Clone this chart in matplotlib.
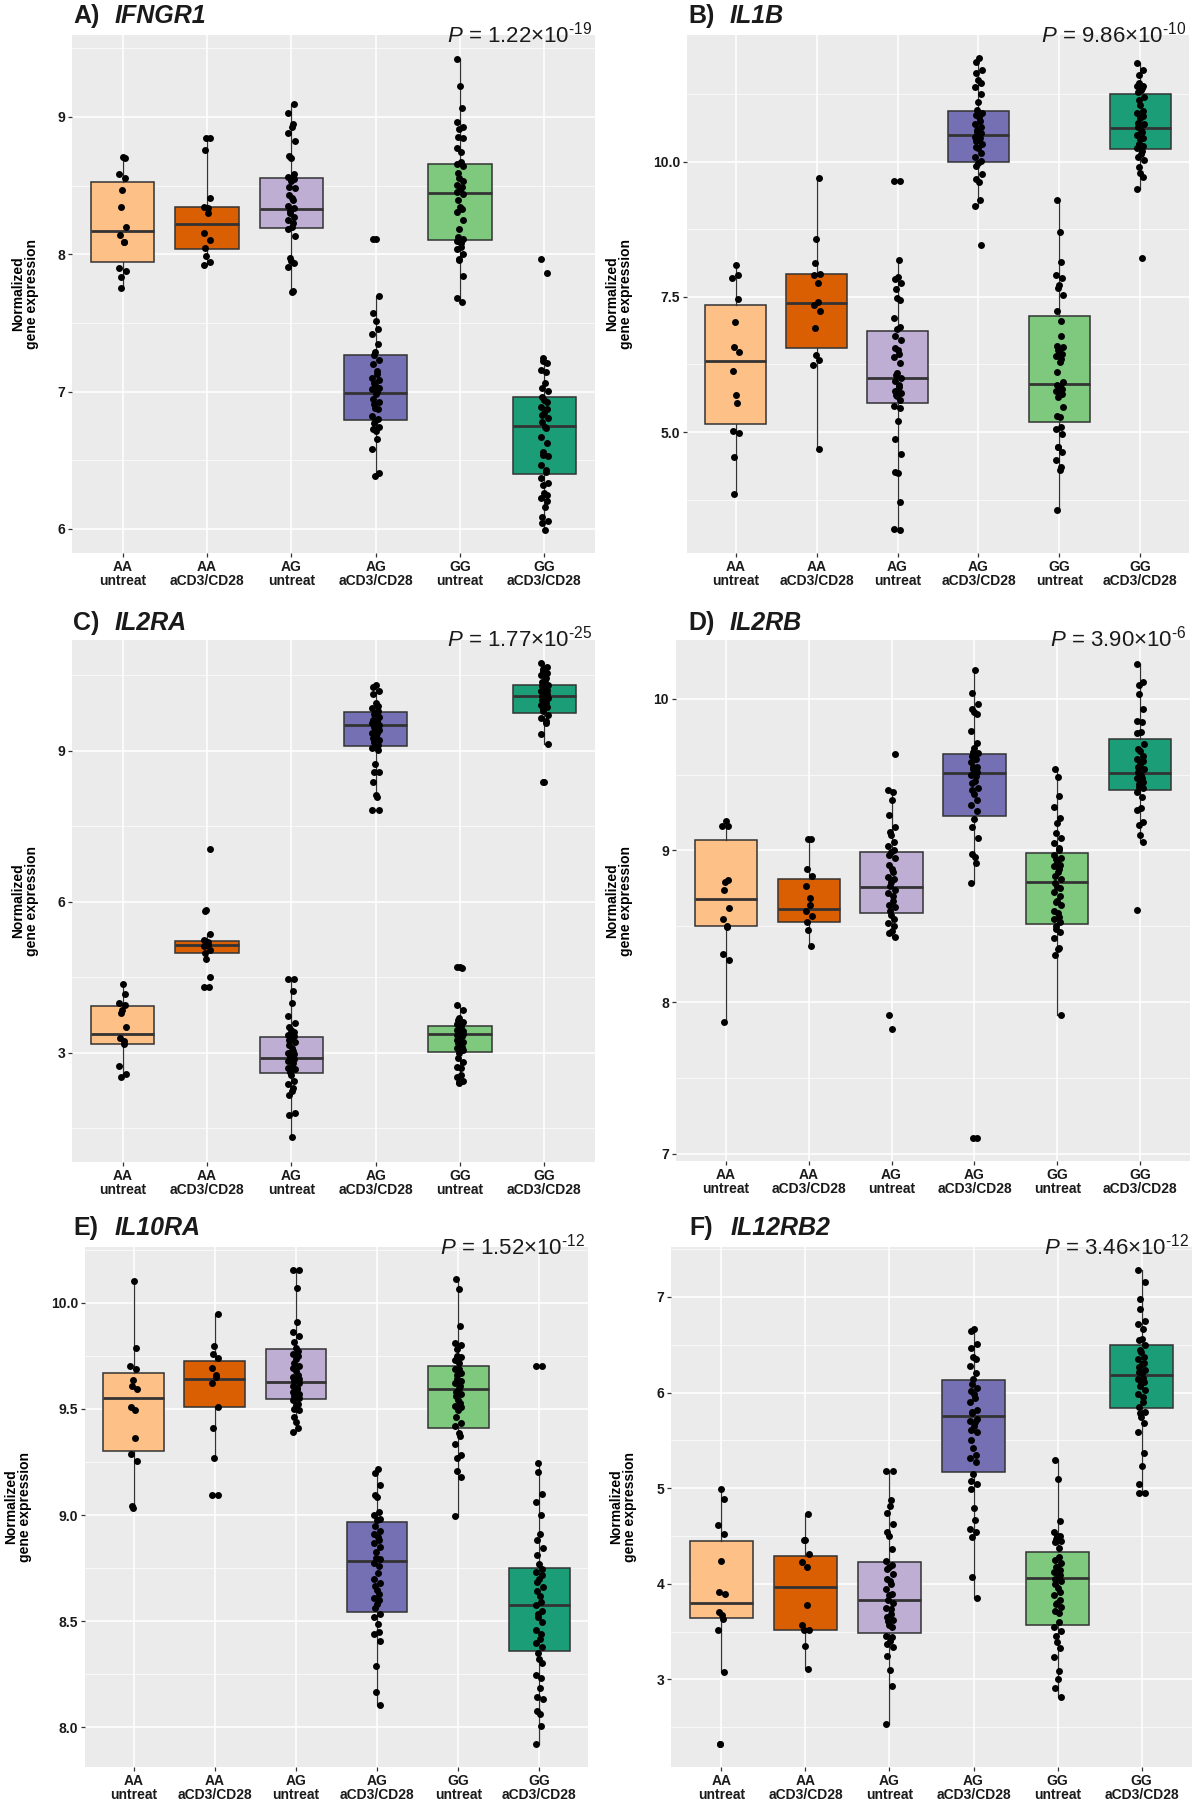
import numpy as np
import matplotlib.pyplot as plt
from matplotlib.ticker import AutoMinorLocator, FixedLocator, FormatStrFormatter

plt.rcParams['font.family'] = ['Liberation Sans', 'DejaVu Sans']
plt.rcParams['mathtext.fontset'] = 'custom'
plt.rcParams['mathtext.rm'] = 'Liberation Sans'
plt.rcParams['mathtext.it'] = 'Liberation Sans:italic'
plt.rcParams['mathtext.bf'] = 'Liberation Sans:bold'

W, H = 1194, 1800

GROUPS = ["AA\nuntreat", "AA\naCD3/CD28", "AG\nuntreat",
          "AG\naCD3/CD28", "GG\nuntreat", "GG\naCD3/CD28"]
COLORS = ["#FDC086", "#D95F02", "#BEAED4", "#7570B3", "#7FC97F", "#1B9E77"]

# -- IFNGR1
IFNGR1_PTS = [
    [8.711, 8.70, 8.585, 8.553, 8.468, 8.347, 8.196, 8.141, 8.087, 8.087, 7.902, 7.878, 7.837, 7.752],
    [8.85, 8.85, 8.76, 8.408, 8.347, 8.335, 8.299, 8.153, 8.104, 8.044, 7.988, 7.947, 7.92],
    [9.092, 9.027, 8.947, 8.925, 8.886, 8.828, 8.718, 8.704, 8.585, 8.566, 8.547, 8.536, 8.492, 8.48,
     8.432, 8.408, 8.395, 8.354, 8.335, 8.318, 8.299, 8.275, 8.25, 8.226, 8.202, 8.187, 8.136, 7.971,
     7.954, 7.935, 7.91, 7.735, 7.728],
    [8.109, 8.109, 7.696, 7.575, 7.517, 7.454, 7.417, 7.35, 7.291, 7.267, 7.23, 7.20, 7.152, 7.128,
     7.10, 7.084, 7.065, 7.048, 7.03, 7.02, 7.0, 6.98, 6.95, 6.921, 6.911, 6.88, 6.875, 6.821, 6.801,
     6.785, 6.77, 6.74, 6.73, 6.713, 6.653, 6.58, 6.41, 6.386],
    [9.425, 9.226, 9.063, 8.966, 8.925, 8.915, 8.857, 8.85, 8.772, 8.748, 8.67, 8.658, 8.646, 8.59,
     8.553, 8.534, 8.505, 8.488, 8.468, 8.451, 8.436, 8.395, 8.347, 8.328, 8.311, 8.25, 8.182, 8.129,
     8.114, 8.1, 8.08, 8.056, 8.037, 8.003, 7.969, 7.961, 7.842, 7.679, 7.655],
    [7.966, 7.866, 7.242, 7.225, 7.206, 7.157, 7.145, 7.06, 7.024, 7.007, 6.963, 6.939, 6.927, 6.89,
     6.871, 6.842, 6.83, 6.805, 6.781, 6.744, 6.733, 6.672, 6.623, 6.562, 6.538, 6.531, 6.465, 6.429,
     6.417, 6.368, 6.332, 6.32, 6.264, 6.247, 6.223, 6.203, 6.157, 6.089, 6.06, 6.045, 5.992],
]
# whisker low, q1, median, q3, whisker high
IFNGR1_BOX = [(7.752, 7.944, 8.172, 8.529, 8.711), (7.92, 8.039, 8.221, 8.347, 8.85),
              (7.728, 8.194, 8.33, 8.553, 9.092), (6.386, 6.797, 6.987, 7.267, 7.696),
              (7.655, 8.104, 8.444, 8.658, 9.425), (5.992, 6.40, 6.75, 6.958, 7.242)]

# -- IL1B
IL1B_PTS = [
    [8.093, 7.907, 7.846, 7.463, 7.043, 6.58, 6.487, 6.136, 5.685, 5.543, 5.025, 4.988, 4.543, 3.852],
    [9.698, 8.568, 8.124, 7.926, 7.914, 7.753, 7.413, 7.352, 7.247, 6.92, 6.426, 6.333, 6.241, 4.691],
    [9.654, 9.654, 8.185, 7.864, 7.827, 7.765, 7.642, 7.475, 7.444, 7.105, 6.951, 6.9, 6.778, 6.70,
     6.549, 6.52, 6.45, 6.383, 6.284, 6.099, 6.056, 5.994, 5.95, 5.864, 5.84, 5.75, 5.728, 5.685, 5.66,
     5.593, 5.481, 5.438, 5.21, 4.864, 4.593, 4.265, 4.234, 3.698, 3.197, 3.19],
    [11.93, 11.857, 11.70, 11.65, 11.518, 11.47, 11.383, 11.26, 11.117, 10.963, 10.9, 10.87, 10.83,
     10.75, 10.704, 10.65, 10.6, 10.55, 10.531, 10.47, 10.45, 10.41, 10.38, 10.333, 10.284, 10.25,
     10.173, 10.099, 10.02, 9.988, 9.932, 9.778, 9.68, 9.636, 9.296, 9.185, 8.463],
    [9.296, 8.71, 8.142, 7.907, 7.846, 7.722, 7.66, 7.537, 7.247, 7.062, 6.778, 6.60, 6.58, 6.52, 6.50,
     6.444, 6.40, 6.346, 6.30, 6.117, 5.932, 5.87, 5.83, 5.80, 5.75, 5.70, 5.685, 5.642, 5.469, 5.296,
     5.272, 5.099, 5.05, 4.963, 4.728, 4.716, 4.636, 4.481, 4.358, 4.296, 3.556],
    [11.839, 11.70, 11.611, 11.457, 11.41, 11.40, 11.37, 11.33, 11.30, 11.20, 11.148, 11.056, 10.95,
     10.901, 10.85, 10.808, 10.716, 10.70, 10.654, 10.60, 10.562, 10.5, 10.45, 10.42, 10.333, 10.30,
     10.253, 10.20, 10.148, 10.10, 10.037, 9.914, 9.80, 9.728, 9.5, 8.216],
]
IL1B_BOX = [(3.852, 5.148, 6.315, 7.352, 8.093), (4.691, 6.549, 7.383, 7.926, 9.698),
            (3.19, 5.543, 6.006, 6.877, 8.185), (9.185, 9.994, 10.5, 10.95, 11.93),
            (3.556, 5.191, 5.883, 7.154, 9.296), (9.5, 10.241, 10.624, 11.259, 11.839)]

# -- IL2RA
IL2RA_PTS = [
    [4.359, 4.168, 3.99, 3.954, 3.84, 3.786, 3.518, 3.289, 3.228, 3.174, 2.731, 2.586, 2.509],
    [7.05, 5.827, 5.82, 5.353, 5.24, 5.2, 5.15, 5.12, 5.05, 4.99, 4.856, 4.497, 4.306, 4.30],
    [4.474, 4.474, 4.222, 3.99, 3.725, 3.595, 3.518, 3.45, 3.404, 3.36, 3.327, 3.289, 3.25, 3.213,
     3.151, 3.098, 3.044, 3.00, 2.983, 2.945, 2.907, 2.88, 2.846, 2.792, 2.739, 2.70, 2.678, 2.617,
     2.563, 2.448, 2.372, 2.295, 2.234, 2.158, 1.798, 1.76, 1.317],
    [10.307, 10.26, 10.185, 10.13, 9.94, 9.88, 9.849, 9.79, 9.75, 9.73, 9.67, 9.62, 9.60, 9.57, 9.55,
     9.52, 9.466, 9.45, 9.405, 9.36, 9.344, 9.29, 9.25, 9.214, 9.18, 9.138, 9.12, 9.06, 9.008, 8.732,
     8.58, 8.58, 8.373, 8.12, 8.09, 7.823, 7.823],
    [4.70, 4.70, 4.69, 3.954, 3.84, 3.70, 3.65, 3.62, 3.58, 3.53, 3.48, 3.45, 3.44, 3.40, 3.38, 3.37,
     3.35, 3.33, 3.29, 3.25, 3.22, 3.20, 3.15, 3.12, 3.10, 3.05, 3.00, 2.90, 2.82, 2.72, 2.70, 2.55,
     2.52, 2.44, 2.41, 2.39],
    [10.743, 10.667, 10.62, 10.59, 10.55, 10.50, 10.45, 10.40, 10.36, 10.307, 10.28, 10.246, 10.20,
     10.185, 10.13, 10.10, 10.078, 10.05, 10.017, 9.98, 9.94, 9.90, 9.864, 9.82, 9.79, 9.711, 9.65,
     9.596, 9.558, 9.329, 9.138, 8.373, 8.373],
]
IL2RA_BOX = [(2.509, 3.174, 3.381, 3.939, 4.359), (4.856, 4.986, 5.139, 5.223, 5.353),
             (1.317, 2.601, 2.891, 3.312, 4.474), (8.09, 9.099, 9.505, 9.772, 10.307),
             (2.39, 3.021, 3.365, 3.534, 3.954), (9.138, 9.749, 10.093, 10.307, 10.743)]

# -- IL2RB
IL2RB_PTS = [
    [9.196, 9.163, 9.163, 8.808, 8.79, 8.74, 8.62, 8.549, 8.504, 8.494, 8.316, 8.276, 7.872],
    [9.077, 9.077, 8.879, 8.833, 8.765, 8.689, 8.638, 8.60, 8.57, 8.529, 8.473, 8.372],
    [9.635, 9.399, 9.386, 9.335, 9.234, 9.158, 9.12, 9.10, 9.057, 9.031, 9.00, 8.993, 8.968, 8.95,
     8.904, 8.88, 8.859, 8.828, 8.81, 8.79, 8.765, 8.74, 8.72, 8.70, 8.67, 8.638, 8.625, 8.60, 8.575,
     8.549, 8.52, 8.499, 8.47, 8.453, 8.428, 7.915, 7.821],
    [10.19, 10.041, 9.964, 9.932, 9.914, 9.899, 9.787, 9.711, 9.678, 9.65, 9.64, 9.62, 9.60, 9.60,
     9.584, 9.55, 9.55, 9.538, 9.518, 9.50, 9.488, 9.46, 9.442, 9.412, 9.40, 9.374, 9.33, 9.297, 9.26,
     9.209, 9.158, 9.082, 8.975, 8.96, 8.917, 8.783, 7.104, 7.104],
    [9.538, 9.483, 9.361, 9.285, 9.214, 9.183, 9.115, 9.082, 9.05, 9.018, 9.006, 8.968, 8.95, 8.942,
     8.92, 8.904, 8.90, 8.879, 8.86, 8.833, 8.81, 8.783, 8.76, 8.752, 8.727, 8.70, 8.669, 8.663, 8.64,
     8.60, 8.587, 8.562, 8.55, 8.529, 8.499, 8.48, 8.461, 8.423, 8.359, 8.352, 8.308, 7.915],
    [10.228, 10.109, 10.091, 10.033, 9.932, 9.855, 9.848, 9.779, 9.772, 9.70, 9.67, 9.653, 9.62, 9.60,
     9.589, 9.569, 9.55, 9.538, 9.52, 9.50, 9.48, 9.475, 9.45, 9.437, 9.42, 9.412, 9.386, 9.35, 9.277,
     9.264, 9.188, 9.17, 9.102, 9.057, 8.605],
]
IL2RB_BOX = [(7.872, 8.499, 8.681, 9.069, 9.196), (8.372, 8.529, 8.613, 8.811, 9.077),
             (8.428, 8.587, 8.757, 8.993, 9.399), (8.783, 9.229, 9.513, 9.635, 10.19),
             (7.915, 8.516, 8.79, 8.986, 9.538), (9.057, 9.396, 9.508, 9.736, 10.228)]

# -- IL10RA
IL10RA_PTS = [
    [10.105, 9.788, 9.703, 9.688, 9.638, 9.607, 9.594, 9.507, 9.493, 9.362, 9.286, 9.257, 9.042, 9.031],
    [9.946, 9.797, 9.761, 9.739, 9.692, 9.661, 9.649, 9.62, 9.511, 9.408, 9.268, 9.094, 9.094],
    [10.154, 10.154, 10.069, 9.909, 9.861, 9.842, 9.815, 9.788, 9.774, 9.761, 9.75, 9.734, 9.716, 9.70,
     9.692, 9.68, 9.66, 9.652, 9.64, 9.638, 9.63, 9.62, 9.61, 9.60, 9.594, 9.58, 9.571, 9.56, 9.553,
     9.55, 9.54, 9.522, 9.52, 9.50, 9.493, 9.462, 9.438, 9.408, 9.393],
    [9.217, 9.196, 9.141, 9.094, 9.087, 9.014, 9.0, 8.98, 8.978, 8.949, 8.924, 8.91, 8.895, 8.882,
     8.87, 8.85, 8.828, 8.80, 8.792, 8.774, 8.76, 8.725, 8.70, 8.678, 8.665, 8.647, 8.63, 8.611, 8.601,
     8.58, 8.562, 8.533, 8.52, 8.489, 8.447, 8.438, 8.406, 8.29, 8.167, 8.103],
    [10.114, 10.065, 9.893, 9.812, 9.801, 9.783, 9.75, 9.746, 9.73, 9.716, 9.69, 9.688, 9.67, 9.66,
     9.643, 9.63, 9.62, 9.61, 9.601, 9.58, 9.57, 9.562, 9.543, 9.53, 9.516, 9.51, 9.493, 9.46, 9.435,
     9.42, 9.389, 9.371, 9.335, 9.281, 9.268, 9.208, 9.178, 8.995],
    [9.703, 9.703, 9.245, 9.203, 9.10, 9.063, 9.0, 8.909, 8.882, 8.846, 8.81, 8.768, 8.746, 8.73,
     8.719, 8.70, 8.683, 8.66, 8.641, 8.62, 8.592, 8.574, 8.55, 8.533, 8.52, 8.496, 8.46, 8.44, 8.417,
     8.399, 8.38, 8.35, 8.321, 8.303, 8.248, 8.23, 8.185, 8.145, 8.134, 8.076, 8.062, 8.007, 7.922],
]
IL10RA_BOX = [(9.031, 9.303, 9.553, 9.67, 10.105), (9.268, 9.507, 9.639, 9.725, 9.946),
              (9.393, 9.547, 9.629, 9.784, 10.154), (8.103, 8.542, 8.783, 8.967, 9.217),
              (8.995, 9.408, 9.594, 9.703, 10.114), (7.922, 8.361, 8.574, 8.75, 9.245)]

# -- IL12RB2
IL12RB2_PTS = [
    [4.992, 4.887, 4.618, 4.517, 4.243, 3.914, 3.893, 3.704, 3.672, 3.632, 3.519, 3.076, 2.324, 2.324],
    [4.726, 4.457, 4.457, 4.316, 4.227, 4.175, 3.773, 3.571, 3.519, 3.519, 3.35, 3.109],
    [5.181, 5.181, 4.879, 4.811, 4.738, 4.63, 4.537, 4.497, 4.364, 4.235, 4.20, 4.175, 4.15, 4.10,
     4.054, 4.026, 3.994, 3.95, 3.893, 3.88, 3.825, 3.80, 3.75, 3.732, 3.68, 3.65, 3.62, 3.612, 3.571,
     3.55, 3.451, 3.44, 3.40, 3.37, 3.342, 3.249, 3.101, 2.928, 2.537],
    [6.67, 6.642, 6.509, 6.469, 6.376, 6.348, 6.276, 6.20, 6.147, 6.095, 6.05, 6.014, 5.986, 5.946,
     5.90, 5.813, 5.80, 5.785, 5.724, 5.70, 5.692, 5.65, 5.604, 5.584, 5.50, 5.423, 5.35, 5.314, 5.27,
     5.153, 5.072, 5.04, 4.992, 4.791, 4.67, 4.577, 4.537, 4.485, 4.074, 3.853],
    [5.294, 5.093, 4.658, 4.537, 4.50, 4.497, 4.469, 4.45, 4.437, 4.376, 4.276, 4.25, 4.215, 4.18,
     4.175, 4.147, 4.12, 4.095, 4.08, 4.054, 4.026, 4.00, 3.954, 3.914, 3.88, 3.825, 3.80, 3.785,
     3.753, 3.72, 3.692, 3.60, 3.551, 3.511, 3.451, 3.39, 3.33, 3.237, 3.089, 3.008, 2.907, 2.819],
    [7.282, 7.153, 6.98, 6.871, 6.75, 6.722, 6.67, 6.561, 6.55, 6.497, 6.45, 6.429, 6.368, 6.35,
     6.308, 6.30, 6.268, 6.239, 6.22, 6.20, 6.15, 6.147, 6.107, 6.10, 6.066, 6.03, 5.986, 5.958, 5.90,
     5.845, 5.80, 5.785, 5.744, 5.684, 5.584, 5.37, 5.233, 5.04, 4.952, 4.952],
]
IL12RB2_BOX = [(3.076, 3.64, 3.801, 4.445, 4.992), (3.109, 3.519, 3.962, 4.288, 4.726),
               (2.537, 3.483, 3.833, 4.227, 5.181), (3.853, 5.169, 5.753, 6.127, 6.67),
               (2.819, 3.571, 4.062, 4.328, 5.294), (4.952, 5.837, 6.187, 6.501, 7.282)]

# letter, gene, p mantissa, p exponent, points, boxes, ylim, yticks, tick format
PANELS = [
    ("A)", "IFNGR1", "1.22", "-19", IFNGR1_PTS, IFNGR1_BOX, (5.825, 9.597), [6, 7, 8, 9], "%d"),
    ("B)", "IL1B", "9.86", "-10", IL1B_PTS, IL1B_BOX, (2.76, 12.35), [5.0, 7.5, 10.0], "%.1f"),
    ("C)", "IL2RA", "1.77", "-25", IL2RA_PTS, IL2RA_BOX, (0.83, 11.2), [3, 6, 9], "%d"),
    ("D)", "IL2RB", "3.90", "-6", IL2RB_PTS, IL2RB_BOX, (6.952, 10.388), [7, 8, 9, 10], "%d"),
    ("E)", "IL10RA", "1.52", "-12", IL10RA_PTS, IL10RA_BOX, (7.813, 10.263),
     [8.0, 8.5, 9.0, 9.5, 10.0], "%.1f"),
    ("F)", "IL12RB2", "3.46", "-12", IL12RB2_PTS, IL12RB2_BOX, (2.083, 7.523), [3, 4, 5, 6, 7], "%d"),
]

# panel placement in pixels: left, right, top, bottom, title x, title baseline, ylabel x
LAYOUT = [
    (72, 595, 35, 553, 73, 23, 25),
    (687, 1189, 35, 553, 688, 23, 619),
    (72, 595, 640, 1162, 73, 630, 25),
    (676, 1190, 640, 1161, 688, 630, 619),
    (85, 588, 1247, 1767, 73, 1235, 18),
    (671, 1192, 1247, 1767, 689, 1235, 623),
]

EDGE = "#333333"

fig = plt.figure(figsize=(W / 100, H / 100), dpi=100)

for (letter, gene, pm, pe, pts, boxes, ylim, yticks, fmt), lay in zip(PANELS, LAYOUT):
    x0, x1, y0, y1, tx, ty, lx = lay
    ax = fig.add_axes([x0 / W, 1 - y1 / H, (x1 - x0) / W, (y1 - y0) / H])
    ax.set_facecolor("#EBEBEB")
    for s in ax.spines.values():
        s.set_visible(False)

    stats = [dict(whislo=b[0], q1=b[1], med=b[2], q3=b[3], whishi=b[4]) for b in boxes]
    bp = ax.bxp(stats, positions=range(1, 7), widths=0.75, patch_artist=True,
                showfliers=False, showcaps=False,
                boxprops=dict(edgecolor=EDGE, linewidth=1.1),
                whiskerprops=dict(color=EDGE, linewidth=0.9),
                medianprops=dict(color=EDGE, linewidth=2.0), zorder=2)
    for patch, c in zip(bp["boxes"], COLORS):
        patch.set_facecolor(c)

    # jittered points, small fixed horizontal spread
    for i, vals in enumerate(pts):
        n = len(vals)
        jit = 0.04 * np.sin(np.arange(n) * 2.39 + i)
        ax.plot(i + 1 + jit, vals, "o", color="black", ms=5, mew=0, zorder=3)

    ax.set_xlim(0.4, 6.6)
    ax.set_ylim(*ylim)
    ax.set_xticks(range(1, 7))
    ax.set_xticklabels(GROUPS, fontsize=10, fontweight="bold", linespacing=1.0)
    ax.yaxis.set_major_locator(FixedLocator(yticks))
    ax.yaxis.set_major_formatter(FormatStrFormatter(fmt))
    ax.yaxis.set_minor_locator(AutoMinorLocator(2))
    for lab in ax.get_yticklabels():
        lab.set_fontsize(10)
        lab.set_fontweight("bold")
    ax.tick_params(axis="both", which="major", length=3, width=0.9, color=EDGE, pad=2,
                   labelcolor="#1a1a1a")
    ax.tick_params(axis="y", which="minor", length=0)
    ax.grid(True, which="major", color="white", linewidth=1.1, zorder=0)
    ax.grid(True, which="minor", axis="y", color="white", linewidth=0.5, zorder=0)
    ax.set_axisbelow(True)

    # titles
    fig.text(tx / W, 1 - ty / H, letter, fontsize=18, fontweight="bold", va="baseline",
             color="#1a1a1a")
    fig.text((tx + 42) / W, 1 - ty / H, gene, fontsize=18, fontweight="bold",
             fontstyle="italic", va="baseline", color="#1a1a1a")
    fig.text((x1 - 3) / W, 1 - (y0 + 7) / H,
             r"$\mathit{P}$ = " + pm + r"×10$^{\text{" + pe + "}}$",
             fontsize=16, ha="right", va="baseline", color="#1a1a1a")
    fig.text(lx / W, 1 - (y0 + y1) / 2 / H, "Normalized\ngene expression", rotation=90,
             ha="center", va="center", multialignment="center", fontsize=10,
             fontweight="bold", linespacing=1.0)

fig.savefig("out.png", dpi=100, facecolor="white")
